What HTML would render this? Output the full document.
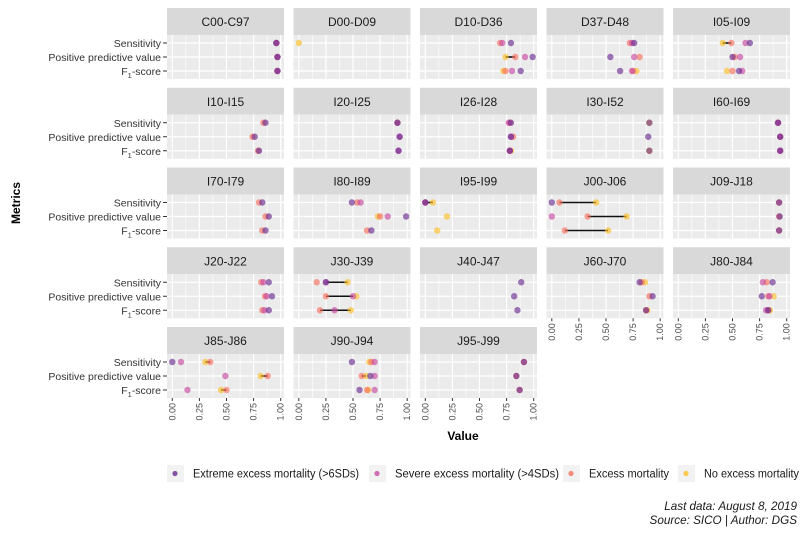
<!DOCTYPE html>
<html><head><meta charset="utf-8">
<style>
body{margin:0;background:#fff;}
svg{display:block;font-family:"Liberation Sans",Arial,sans-serif;}
</style></head>
<body>
<svg id="chart" width="800" height="533" viewBox="0 0 800 533" xmlns="http://www.w3.org/2000/svg"></svg>
<script>
const panels = ["C00-C97","D00-D09","D10-D36","D37-D48","I05-I09",
"I10-I15","I20-I25","I26-I28","I30-I52","I60-I69",
"I70-I79","I80-I89","I95-I99","J00-J06","J09-J18",
"J20-J22","J30-J39","J40-J47","J60-J70","J80-J84",
"J85-J86","J90-J94","J95-J99"];
const metrics = ["Sensitivity","Positive predictive value","F1-score"];
const xTicks = [0,0.25,0.5,0.75,1];
const xTickLabels = ["0.00","0.25","0.50","0.75","1.00"];
// values per panel: [sensitivity, ppv, f1]; null = absent
const noExcessVals = [
null,[0,null,null],[null,0.74,0.72],[null,null,0.78],[0.41,null,0.45],
null,[0.91,null,null],[null,null,0.79],[0.90,null,0.90],null,
null,[null,0.73,null],[0.07,0.20,0.11],[0.41,0.69,0.52],null,
null,[0.45,0.53,0.48],null,[0.86,null,0.88],[null,0.88,0.845],
[0.305,0.815,0.45],[0.65,0.62,0.64],null];
const excessVals = [
[0.96,0.97,0.97],null,[0.69,0.83,0.74],[0.72,0.81,0.75],[0.49,0.52,0.50],
[0.84,0.74,0.79],null,[0.78,0.81,0.78],null,[0.92,0.94,0.94],
[0.80,0.86,0.83],[0.54,0.75,0.63],[0.0,null,null],[0.07,0.33,0.12],[0.93,0.93,0.93],
[0.82,0.855,0.83],[0.165,0.25,0.195],null,[0.83,0.90,0.87],[0.815,0.83,0.83],
[0.35,0.88,0.50],[0.67,0.58,0.63],[0.91,0.84,0.87]];
const severeVals = [
[0.96,0.97,0.97],null,[0.71,0.92,0.80],[0.74,0.76,0.74],[0.62,0.57,0.59],
null,[0.91,0.93,0.92],[0.77,0.79,0.78],null,[0.92,0.94,0.94],
null,[0.57,0.82,null],[0.0,null,null],[null,0.0,null],null,
[0.84,0.87,0.85],[0.25,0.50,0.33],null,null,[0.78,0.84,0.81],
[0.08,0.49,0.14],[0.70,0.70,0.70],null];
const extremeVals = [
[0.96,0.97,0.97],null,[0.79,0.99,0.88],[0.76,0.54,0.63],[0.66,0.50,0.56],
[0.86,0.76,0.80],[0.91,0.93,0.92],[0.79,0.79,0.78],[0.90,0.89,0.90],[0.92,0.94,0.94],
[0.83,0.89,0.86],[0.49,0.99,0.67],[0.0,null,null],[0.0,null,null],[0.93,0.935,0.93],
[0.89,0.92,0.89],[0.25,null,null],[0.885,0.82,0.85],[0.81,0.93,0.87],[0.87,0.77,0.83],
[0.0,null,null],[0.49,0.66,0.56],[0.91,0.84,0.87]];
// segments: [panelIndex, metricIndex, from, to]
const segments = [[2,1,0.74,0.83],[4,0,0.41,0.49],[12,0,0.0,0.07],
[13,0,0.07,0.41],[13,1,0.33,0.69],[13,2,0.12,0.52],
[16,0,0.25,0.45],[16,1,0.25,0.50],[16,2,0.195,0.48],
[20,0,0.305,0.35],[20,1,0.815,0.88],[20,2,0.45,0.50],[21,1,0.58,0.62]];
const seriesNames = ["Extreme excess mortality (>6SDs)","Severe excess mortality (>4SDs)","Excess mortality","No excess mortality"];
const seriesColors = ["#6a2c91","#c74aa3","#f8705e","#fcbf26"];

const svg = document.getElementById('chart');
const NS = "http://www.w3.org/2000/svg";
function mk(tag, attrs, parent){const e=document.createElementNS(NS,tag);for(const k in attrs)e.setAttribute(k,attrs[k]);(parent||svg).appendChild(e);return e;}
const colLeft = c => 167 + c*126.5;
const PW = 117, SH = 27, PH = 44;
const rowTop = r => 8 + r*79.75;
const xs = (c,v) => colLeft(c) + 5.3 + v*108.4;
const ys = (r,m) => rowTop(r) + SH + 8 + m*14;

panels.forEach((name,i)=>{
  const r=Math.floor(i/5), c=i%5;
  const g=mk('g',{});
  
  
  const strip=mk('rect',{x:colLeft(c),y:rowTop(r),width:PW,height:SH,fill:'#d9d9d9'},g);
  
  
  const st=mk('text',{x:colLeft(c)+PW/2,y:rowTop(r)+18,'text-anchor':'middle','font-size':'12',fill:'#1a1a1a'},g);
  st.textContent=name;
  
  
  const top=rowTop(r)+SH;
  mk('rect',{x:colLeft(c),y:top,width:PW,height:PH,fill:'#ebebeb'},g);
  for(let k=0;k<4;k++){const v=0.125+k*0.25;mk('line',{x1:xs(c,v),x2:xs(c,v),y1:top,y2:top+PH,stroke:'#fff','stroke-width':0.6},g);}
  xTicks.forEach(v=>mk('line',{x1:xs(c,v),x2:xs(c,v),y1:top,y2:top+PH,stroke:'#fff','stroke-width':1.2},g));
  for(let m=0;m<3;m++) mk('line',{x1:colLeft(c),x2:colLeft(c)+PW,y1:ys(r,m),y2:ys(r,m),stroke:'#fff','stroke-width':1.2},g);
  segments.filter(s=>s[0]===i).forEach(s=>{
    const l=mk('line',{x1:xs(c,s[2]),x2:xs(c,s[3]),y1:ys(r,s[1]),y2:ys(r,s[1]),stroke:'#111','stroke-width':1.6},g);
    
    
  });
  const order=[[noExcessVals,3],[excessVals,2],[severeVals,1],[extremeVals,0]];
  order.forEach(([arr,si])=>{
    const vals=arr[i]; if(!vals) return;
    vals.forEach((v,m)=>{ if(v===null) return;
      const p=mk('circle',{cx:xs(c,v),cy:ys(r,m),r:3.2,fill:seriesColors[si],'fill-opacity':0.65},g);
      
      
    });
  });
  if(c===0){
    metrics.forEach((mt,m)=>{
      const t=mk('text',{x:161,y:ys(r,m)+4,'text-anchor':'end','font-size':'10.5',fill:'#333'},g);
      if(mt==="F1-score"){t.innerHTML='F<tspan font-size="7.5" dy="3">1</tspan><tspan dy="-3">-score</tspan>';}
      else t.textContent=mt;
      
      
      mk('line',{x1:163,x2:167,y1:ys(r,m),y2:ys(r,m),stroke:'#333','stroke-width':1},g);
    });
  }
  const below = panels[i+5]===undefined;
  if(below){
    const by=top+PH;
    xTicks.forEach((v,k)=>{
      mk('line',{x1:xs(c,v),x2:xs(c,v),y1:by,y2:by+3,stroke:'#333','stroke-width':1},g);
      const t=mk('text',{x:0,y:0,'text-anchor':'end','font-size':'9',fill:'#4d4d4d',transform:`translate(${xs(c,v)+3},${by+5}) rotate(-90)`},g);
      t.textContent=xTickLabels[k];
      
      
    });
  }
});
const xt=mk('text',{x:463,y:440,'text-anchor':'middle','font-size':'12','font-weight':'bold',fill:'#000'});
xt.textContent='Value';


const yt=mk('text',{x:0,y:0,'text-anchor':'middle','font-size':'12','font-weight':'bold',fill:'#000',transform:'translate(20,203) rotate(-90)'});
yt.textContent='Metrics';



const legendX=[175,377,571,686];
const legendW=[166,164,80,95];
seriesNames.forEach((n,k)=>{
  const g=mk('g',{});
  
  
  mk('rect',{x:legendX[k]-8,y:465,width:17,height:17,fill:'#f2f2f2'},g);
  mk('circle',{cx:legendX[k],cy:473.5,r:2.6,fill:seriesColors[k],'fill-opacity':0.8},g);
  const t=mk('text',{x:legendX[k]+18,y:477.5,'font-size':'11.5',fill:'#1a1a1a',textLength:legendW[k],lengthAdjust:'spacingAndGlyphs'},g);
  t.textContent=n;
});
const c1=mk('text',{x:797,y:510,'text-anchor':'end','font-size':'11.7','font-style':'italic',fill:'#1a1a1a'});
c1.textContent='Last data: August 8, 2019';


const c2=mk('text',{x:797,y:524,'text-anchor':'end','font-size':'11.7','font-style':'italic',fill:'#1a1a1a'});
c2.textContent='Source: SICO | Author: DGS';


</script>
</body></html>
